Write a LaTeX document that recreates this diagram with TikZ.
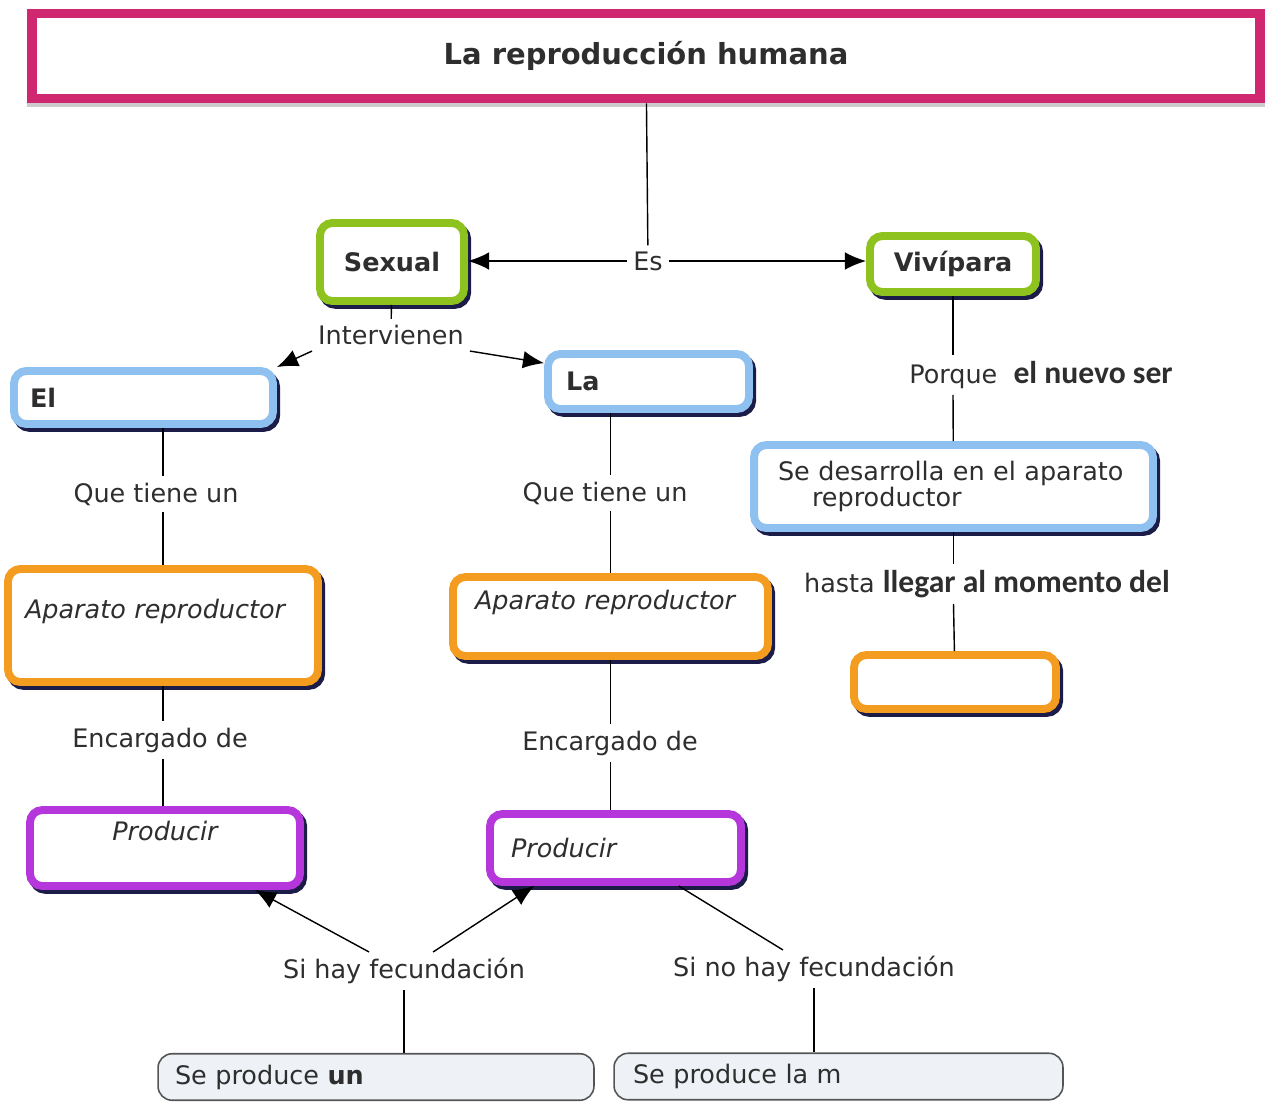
\documentclass[tikz,border=0pt]{standalone}
\usepackage{fontspec}
\setmainfont{DejaVu Sans}
\newfontfamily\calibri{Carlito}
\usetikzlibrary{arrows.meta}

\definecolor{rosa}{HTML}{D02870}
\definecolor{verde}{HTML}{8DC21F}
\definecolor{azul}{HTML}{8EC1F0}
\definecolor{naranja}{HTML}{F39C1F}
\definecolor{morado}{HTML}{B536DA}
\definecolor{sombra}{HTML}{1C1C48}
\definecolor{texto}{HTML}{2E2E2E}
\definecolor{fondo}{HTML}{EEF2F7}
\definecolor{gris}{HTML}{555555}

\newcommand{\ftitulo}{\fontsize{16.5}{18}\bfseries\selectfont}
\newcommand{\fnormal}{\fontsize{14.5}{15}\selectfont}
\newcommand{\fnegrita}{\fontsize{14.5}{15}\bfseries\selectfont}
\newcommand{\fcursiva}{\fontsize{14.5}{15}\itshape\selectfont}
\newcommand{\fcal}{\calibri\fontsize{18}{18}\bfseries\selectfont}

\begin{document}
\begin{tikzpicture}[
        x=0.02cm, y=-0.02cm,
        caja/.style={draw=#1, line width=4.5pt, fill=white, rounded corners=7pt, text=texto,
            preaction={draw=sombra, line width=4.5pt, transform canvas={shift={(1.8pt,-2.2pt)}}}},
        fin/.style={draw=gris, line width=0.9pt, fill=fondo, rounded corners=8pt, text=texto,
            font=\fnormal, align=left, minimum height=0.93cm},
        etiq/.style={font=\fnormal, text=texto},
        linea/.style={line width=0.8pt},
        flecha/.style={-{Latex[length=12pt,width=10pt]}, line width=0.8pt}
        ]
        \useasboundingbox (0,0) rectangle (1266,1102);

        % titulo
        \node[draw=rosa, line width=5.5pt, fill=white, text=texto, font=\ftitulo,
            minimum width=24.56cm, minimum height=1.7cm,
            preaction={draw=black!20, line width=5.5pt, transform canvas={shift={(0pt,-2pt)}}}] (titulo) at (646,56) {La reproducción humana};

        % primer nivel
        \node[etiq] (es) at (648,261) {Es};
        \node[caja=verde, font=\fnegrita, minimum width=2.88cm, minimum height=1.56cm] (sexual) at (392,262) {Sexual};
        \node[caja=verde, font=\fnegrita, minimum width=3.32cm, minimum height=1.12cm] (vivipara) at (953,264) {Vivípara};

        % rama sexual
        \node[etiq] (intervienen) at (391,335) {Intervienen};
        \node[caja=azul, font=\fnegrita, text width=4.54cm, inner xsep=0.32cm, align=left, minimum height=1.06cm] (el) at (143.5,397.5) {El};
        \node[caja=azul, font=\fnegrita, text width=3.3cm, inner xsep=0.36cm, align=left, minimum height=1.1cm] (la) at (648.5,381.5) {La};

        \node[etiq] (tiene1) at (156,494) {Que tiene un};
        \node[etiq] (tiene2) at (605,493) {Que tiene un};
        \node[caja=naranja, font=\fcursiva, text width=5.52cm, inner xsep=0.34cm, align=left,
            text height=11pt, text depth=19pt, minimum height=2.26cm] (aparato1) at (163,625.5) {Aparato reproductor};
        \node[caja=naranja, font=\fcursiva, text width=5.42cm, inner xsep=0.44cm, align=left,
            text height=11pt, text depth=18.5pt, minimum height=1.58cm] (aparato2) at (610.5,616.5) {Aparato reproductor};

        \node[etiq] (encargado1) at (160,740) {Encargado de};
        \node[etiq] (encargado2) at (610,743) {Encargado de};
        \node[caja=morado, font=\fcursiva, minimum width=5.4cm, minimum height=1.52cm,
            text height=11pt, text depth=20pt] (producir1) at (165,848) {Producir};
        \node[caja=morado, font=\fcursiva, text width=4.18cm, inner xsep=0.42cm, align=left,
            minimum height=1.36cm] (producir2) at (615.5,848) {Producir};

        \node[etiq] (sihay) at (404,971) {Si hay fecundación};
        \node[etiq] (sinohay) at (814,969) {Si no hay fecundación};
        \node[fin, text width=8.04cm, inner xsep=0.34cm] (un) at (376,1077) {Se produce \textbf{un}};
        \node[fin, text width=8.22cm, inner xsep=0.38cm] (m) at (838.5,1076.5) {Se produce la m};

        % rama viviparo
        \node[etiq] (porque) at (1041,375) {Porque\ \ {\fcal el nuevo ser}};
        \node[caja=azul, font=\fnormal, text width=7.02cm, inner xsep=0.48cm, align=left,
            minimum height=1.66cm] (desarrolla) at (953.5,486.5) {Se desarrolla en el aparato\\\hspace*{0.68cm}reproductor};
        \node[etiq] (hasta) at (987,584) {hasta {\fcal llegar al momento del}};
        \node[caja=naranja, minimum width=4.04cm, minimum height=1.08cm] (momento) at (955,682) {};

        % conectores
        \draw[linea] (titulo) -- (es);
        \draw[flecha] (es) -- (es -| sexual.east);
        \draw[flecha] (es) -- (es -| vivipara.west);
        \draw[linea] (sexual) -- (intervienen);
        \draw[flecha] (intervienen.south west) -- (el.north east);
        \draw[flecha] (intervienen.south east) -- (la.170);
        \draw[linea] (el.south -| aparato1) -- (tiene1.north -| aparato1);
        \draw[linea] (tiene1.south -| aparato1) -- (aparato1);
        \draw[linea] (la.south -| aparato2) -- (tiene2.north -| aparato2);
        \draw[linea] (tiene2.south -| aparato2) -- (aparato2);
        \draw[linea] (aparato1) -- (aparato1 |- encargado1.north);
        \draw[linea] (aparato1 |- encargado1.south) -- (producir1.north -| aparato1);
        \draw[linea] (aparato2) -- (aparato2 |- encargado2.north);
        \draw[linea] (aparato2 |- encargado2.south) -- (producir2.north -| aparato2);
        \draw[flecha] (sihay) -- (producir1.-25);
        \draw[flecha] (sihay) -- (producir2.205);
        \draw[linea] (sinohay) -- (producir2.-31);
        \draw[linea] (sihay) -- (sihay |- un.north);
        \draw[linea] (sinohay) -- (sinohay |- m.north);
        \draw[linea] (vivipara) -- (vivipara |- porque.north);
        \draw[linea] (vivipara |- porque.south) -- (desarrolla);
        \draw[linea] (desarrolla) -- (desarrolla |- hasta.north);
        \draw[linea] (desarrolla |- hasta.south) -- (momento);
    \end{tikzpicture}
\end{document}
